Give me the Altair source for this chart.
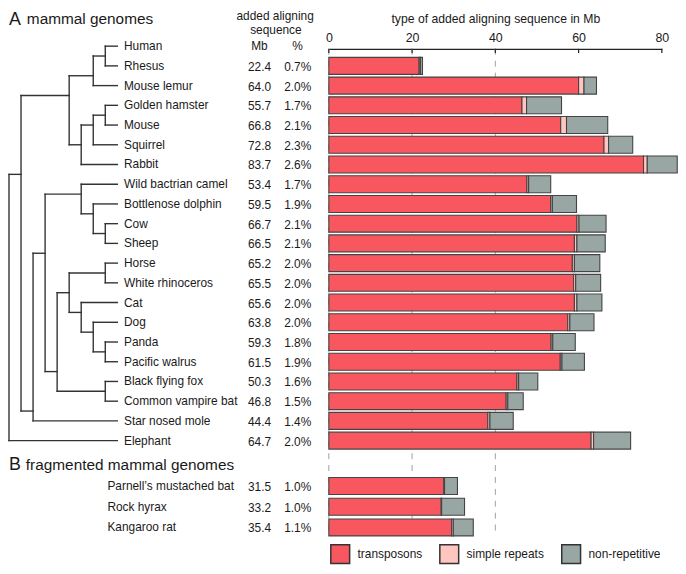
import altair as alt
import pandas as pd

FONT = "Liberation Sans"
INK = "#1a1a1a"

# ---------------- data ----------------
species_a = ["Human", "Rhesus", "Mouse lemur", "Golden hamster", "Mouse", "Squirrel", "Rabbit",
             "Wild bactrian camel", "Bottlenose dolphin", "Cow", "Sheep", "Horse",
             "White rhinoceros", "Cat", "Dog", "Panda", "Pacific walrus", "Black flying fox",
             "Common vampire bat", "Star nosed mole", "Elephant"]
mb_a = ["", "22.4", "64.0", "55.7", "66.8", "72.8", "83.7", "53.4", "59.5", "66.7", "66.5",
        "65.2", "65.5", "65.6", "63.8", "59.3", "61.5", "50.3", "46.8", "44.4", "64.7"]
pct_a = ["", "0.7%", "2.0%", "1.7%", "2.1%", "2.3%", "2.6%", "1.7%", "1.9%", "2.1%", "2.1%",
         "2.0%", "2.0%", "2.0%", "2.0%", "1.8%", "1.9%", "1.6%", "1.5%", "1.4%", "2.0%"]

species_b = ["Parnell\u2019s mustached bat", "Rock hyrax", "Kangaroo rat"]
mb_b = ["31.5", "33.2", "35.4"]
pct_b = ["1.0%", "1.0%", "1.1%"]

# bar segments (Mb), Rhesus ... Elephant, then the fragmented genomes
transposons = [21.7, 60.0, 46.4, 55.7, 66.1, 75.6, 47.6, 53.3, 59.6, 59.0, 58.5, 58.8, 59.0,
               57.4, 53.4, 55.6, 45.2, 42.6, 38.2, 63.0, 27.6, 27.0, 29.5]
simple_repeats = [0.3, 1.3, 1.1, 1.4, 1.1, 0.9, 0.4, 0.4, 0.5, 0.6, 0.5, 0.5, 0.6,
                  0.5, 0.4, 0.4, 0.4, 0.4, 0.5, 0.6, 0.2, 0.1, 0.4]
non_repetitive = [0.5, 3.0, 8.4, 9.9, 5.8, 7.2, 5.3, 5.8, 6.5, 6.8, 6.1, 6.0, 6.0,
                  5.8, 5.4, 5.4, 4.6, 3.7, 5.6, 8.9, 3.1, 5.5, 4.8]
seq_types = ["transposons", "simple repeats", "non-repetitive"]
tick_values = [0, 20, 40, 60, 80]
grid_values = [0, 20, 40]

# tree topology: internal nodes (depth level, vertical top row, bottom row,
# row where it joins its parent, parent depth)
node_depth = [0, 1, 5, 7, 8, 6, 7, 8, 2, 3, 6, 7, 8, 4, 5, 8, 6, 7, 8, 8]
node_top = [6.5, 2.5, 1.5, 0.5, 0, 4.0, 3.5, 3, 10.5, 7.5, 7, 8, 9, 12.5, 11.5, 11, 13, 14, 15, 17]
node_bottom = [20, 18.5, 5.0, 2, 1, 6, 5, 4, 19, 16.5, 8.5, 9.5, 10, 17.5, 13.5, 12, 14.5, 15.5, 16, 18]
node_conn = [None, 6.5, 2.5, 1.5, 0.5, 5.0, 4.0, 3.5, 18.5, 10.5, 7.5, 8.5, 9.5, 16.5, 12.5,
             11.5, 13.5, 14.5, 15.5, 17.5]
node_parent = [None, 0, 1, 5, 7, 5, 6, 7, 1, 2, 3, 6, 7, 3, 4, 5, 5, 6, 7, 4]
leaf_parent_depth = [8, 8, 7, 8, 8, 7, 6, 6, 7, 8, 8, 8, 8, 6, 7, 8, 8, 8, 8, 2, 0]
LEAF_DEPTH = 9

# ---------------- layout ----------------
rows_a = list(range(len(species_a)))
rows_b = [22.3, 23.35, 24.4]
HALF = 0.43

# ---------------- tables ----------------
bar_species = species_a[1:] + species_b
bar_rows = rows_a[1:] + rows_b
recs = []
for sp, r, t, s, n in zip(bar_species, bar_rows, transposons, simple_repeats, non_repetitive):
    start = 0.0
    for typ, v in zip(seq_types, (t, s, n)):
        recs.append(dict(species=sp, row=r, type=typ, start=start, end=start + v,
                         top=r - HALF, bot=r + HALF))
        start += v
bars_df = pd.DataFrame(recs)

hseg = []
for r, pd_ in zip(rows_a, leaf_parent_depth):
    hseg.append(dict(x1=pd_, x2=LEAF_DEPTH, y=r))
for d, c, p in zip(node_depth, node_conn, node_parent):
    if c is not None:
        hseg.append(dict(x1=p, x2=d, y=c))
hseg_df = pd.DataFrame(hseg)
vseg_df = pd.DataFrame(dict(x=node_depth, y1=node_top, y2=node_bottom))

lab_a = pd.DataFrame(dict(name=species_a, mb=mb_a, pct=pct_a, row=rows_a))
lab_b = pd.DataFrame(dict(name=species_b, mb=mb_b, pct=pct_b, row=rows_b))

# ---------------- scales ----------------
yscale = alt.Scale(domain=[0, 20], range=[36, 434], zero=False, nice=False)
xbar = alt.Scale(domain=[0, 80], range=[323.7, 659.7], zero=False, nice=False)
xtree = alt.Scale(domain=[0, LEAF_DEPTH], range=[1, 110.3], zero=False, nice=False)
colors = ["#f9575f", "#ffc5bf", "#98a7a4"]

# ---------------- layers ----------------
grid = alt.Chart(pd.DataFrame({"v": grid_values})).mark_rule(
    color="#a0a0a0", strokeDash=[6, 6], strokeWidth=1
).encode(x=alt.X("v:Q", scale=xbar, axis=None), y=alt.value(38.7), y2=alt.value(530.5))

ticks = alt.Chart(pd.DataFrame({"v": tick_values})).mark_rule(
    color="#222", strokeWidth=1.2
).encode(x=alt.X("v:Q", scale=xbar, axis=None), y=alt.value(38.7), y2=alt.value(43))

bars = alt.Chart(bars_df).mark_rect(stroke="#444444", strokeWidth=1.1).encode(
    x=alt.X("start:Q", scale=xbar,
            axis=alt.Axis(orient="top", offset=-38.7, values=tick_values, ticks=False,
                          tickSize=0, grid=False, domainColor="#222", domainWidth=1.3,
                          labelFont=FONT, labelFontSize=12.5, labelColor=INK, labelPadding=7,
                          labelBaseline="alphabetic", labelFlush=False,
                          title="type of added aligning sequence in Mb", titleFont=FONT,
                          titleFontSize=12.3, titleFontWeight="normal", titleColor=INK,
                          titleY=-26.5, titleBaseline="alphabetic")),
    x2="end:Q",
    y=alt.Y("top:Q", scale=yscale, axis=None),
    y2="bot:Q",
    color=alt.Color("type:N", scale=alt.Scale(domain=seq_types, range=colors),
                    legend=alt.Legend(orient="none", legendX=324.7, legendY=538,
                                      direction="horizontal", title=None,
                                      symbolType="square", symbolSize=361,
                                      symbolStrokeColor="#333", symbolStrokeWidth=1.5,
                                      symbolOpacity=1, labelFont=FONT, labelFontSize=12,
                                      labelColor=INK, labelOffset=7, columnPadding=14,
                                      padding=0)),
)

tree_h = alt.Chart(hseg_df).mark_rule(color="#333", strokeWidth=1.4, strokeCap="square").encode(
    x=alt.X("x1:Q", scale=xtree, axis=None), x2="x2:Q",
    y=alt.Y("y:Q", scale=yscale, axis=None))
tree_v = alt.Chart(vseg_df).mark_rule(color="#333", strokeWidth=1.4, strokeCap="square").encode(
    x=alt.X("x:Q", scale=xtree, axis=None),
    y=alt.Y("y1:Q", scale=yscale, axis=None), y2="y2:Q")


def col_text(df, field, x, align, dy=0):
    return alt.Chart(df).mark_text(align=align, baseline="middle", font=FONT, fontSize=12,
                                   color=INK, dy=dy).encode(
        text=f"{field}:N", x=alt.value(x), y=alt.Y("row:Q", scale=yscale, axis=None))


names_a = col_text(lab_a, "name", 117, "left")
mbs_a = col_text(lab_a, "mb", 265.5, "right", 1)
pcts_a = col_text(lab_a, "pct", 306, "right", 1)
names_b = col_text(lab_b, "name", 100.3, "left")
mbs_b = col_text(lab_b, "mb", 265.5, "right", 1)
pcts_b = col_text(lab_b, "pct", 306, "right", 1)


def label(text, x, y, size=12, align="left"):
    return alt.Chart(pd.DataFrame({"t": [text]})).mark_text(
        align=align, baseline="alphabetic", font=FONT, fontSize=size, color=INK
    ).encode(text="t:N", x=alt.value(x), y=alt.value(y))


headers = [
    label("A", 1, 15, 18),
    label("mammal genomes", 19, 14, 15.5),
    label("added aligning", 269.5, 10, 12, "center"),
    label("sequence", 270.3, 24, 12, "center"),
    label("Mb", 253.7, 40.3, 12, "center"),
    label("%", 292, 40.3, 12, "center"),
    label("B", 1, 464, 18),
    label("fragmented mammal genomes", 18, 463.7, 15.5),
]

chart = alt.layer(
    grid, ticks, bars, tree_h, tree_v, names_a, mbs_a, pcts_a, names_b, mbs_b, pcts_b, *headers
).resolve_scale(x="independent").properties(
    width=676, height=558, autosize="none", padding=0, background="white"
).configure_view(stroke=None)

chart.save("out.html", embed_options={"renderer": "svg", "actions": False})
